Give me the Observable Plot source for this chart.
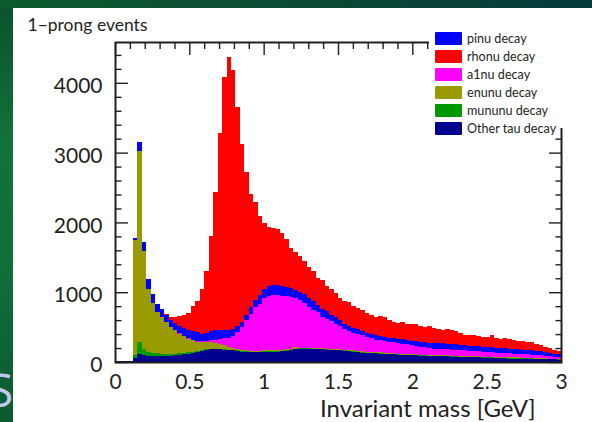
<!DOCTYPE html>
<html><head><meta charset="utf-8">
<script src="https://cdn.jsdelivr.net/npm/d3@7"></script>
<script src="https://cdn.jsdelivr.net/npm/@observablehq/plot@0.6"></script>
<style>
html,body{margin:0;padding:0;}
body{width:592px;height:422px;overflow:hidden;position:relative;font-family:Lato,"Open Sans",sans-serif;
 background:linear-gradient(180deg,#0b522b 0%,#13723a 35%,#10703a 60%,#0b5a30 100%);}
#topband{position:absolute;left:0;top:0;width:592px;height:8px;background:linear-gradient(90deg,#0c5a2e,#0a4a34 50%,#073a3c);}
#sletter{position:absolute;left:-12px;top:366px;font-size:46px;color:#c3c6ee;font-family:"Open Sans",sans-serif;line-height:1;}
#panel{position:absolute;left:13px;top:8px;width:579px;height:414px;background:#fff;}
#legend{position:absolute;left:429px;top:28px;width:136px;height:100px;background:#fff;}
.row{position:absolute;left:0;height:18px;display:flex;align-items:center;font-size:12.6px;color:#231f20;white-space:nowrap;}
.sw{width:27px;height:13px;margin-left:6px;margin-right:5px;border-radius:1px;}
</style></head>
<body>
<div id="topband"></div>
<div id="sletter">S</div>
<div id="panel"></div>
<div id="legend"></div>
<script>
// Stacked histogram: 100 bins of 0.03 GeV from 0 to 3 GeV
const binWidth = 0.03;
const nBins = 100;

// Other tau decay (bottom of stack)
const otherTau = [10,10,10,10,60,110,100,90,85,85, 85,85,90,95,100,110,120,130,145,160,
 170,180,180,180,175,170,165,160,150,145, 140,140,140,145,150,150,150,155,160,170,
 185,190,190,190,185,180,180,175,170,170, 165,160,155,150,140,135,130,130,125,120,
 115,110,110,105,100,100,95,95,90,90, 85,85,80,80,80,75,75,70,70,70,
 65,65,60,60,60,55,55,55,50,50, 50,48,47,46,45,45,42,40,38,35];
// mununu decay
const mununu = [0,0,0,0,40,170,80,60,50,40, 35,30,28,25,22,20,18,16,15,14,
 12,10,10,10,10,8,8,8,8,8, 8,8,8,8,8,8,8,8,8,8,
 8,5,5,5,5,5,5,5,5,5, 5,5,5,5,5,5,5,5,5,5,
 5,5,5,5,5,5,5,5,5,5, 5,5,5,5,5,5,5,5,5,5,
 5,5,5,5,5,5,5,5,5,5, 5,5,5,5,5,5,4,4,3,3];
// enunu decay
const enunu = [0,0,0,0,1650,2747,1413,903,717,592, 526,459,384,335,285,239,198,165,130,111,
 100,90,80,70,55,40,30,20,18,16, 15,15,15,15,15,15,15,15,15,15,
 15,12,12,12,12,12,12,12,12,12, 12,12,12,12,12,12,12,12,12,12,
 12,10,10,10,10,10,10,10,10,10, 10,10,10,10,10,10,10,10,10,10,
 10,10,10,10,10,10,10,10,10,10, 10,10,10,10,10,8,6,6,5,5];
// a1nu decay
const a1nu = [0,0,0,0,0,0,0,0,0,0, 0,0,0,0,5,5,5,8,8,10,
 18,30,50,70,100,132,167,242,324,431, 531,626,675,742,777,784,784,772,757,740,
 702,678,643,583,548,513,453,428,398,364, 338,293,268,253,243,231,213,193,179,173,
 168,162,155,152,149,137,130,118,110,103, 100,92,95,91,87,88,85,86,83,78,
 78,73,73,68,63,63,59,56,57,54, 51,50,48,46,43,40,38,35,32,30];
// pinu decay
const pinu = [0,0,0,0,32,121,120,134,129,111, 110,106,98,105,108,116,119,121,127,112,
 120,130,135,125,120,115,105,90,80,80, 95,100,120,140,140,143,143,145,140,125,
 120,120,125,125,120,110,115,105,95,88, 82,80,78,72,68,65,62,62,62,62,
 62,62,62,62,62,64,66,68,70,72, 75,80,80,80,80,78,76,75,74,73,
 72,72,72,72,72,72,72,70,70,68, 68,66,64,62,60,55,50,45,40,37];
// rhonu decay (top of stack)
const rhonu = [0,0,0,0,0,0,0,0,0,0, 0,10,40,80,140,185,243,364,446,643,
 880,1363,1975,2831,3629,3911,3710,3139,2539,2037, 1613,1398,1137,935,847,814,800,747,676,569,
 548,512,465,445,430,390,415,365,373,351, 318,320,343,308,302,292,278,273,257,293,
 284,246,233,231,246,229,239,244,235,225, 235,221,200,196,206,199,189,174,148,147,
 150,145,142,140,170,145,135,149,138,128, 121,121,116,111,102,87,75,70,52,50];

const stackOrder = [
  {name: "Other tau decay", values: otherTau, color: "#000090"},
  {name: "mununu decay", values: mununu, color: "#009900"},
  {name: "enunu decay", values: enunu, color: "#999900"},
  {name: "a1nu decay", values: a1nu, color: "#ff00ff"},
  {name: "pinu decay", values: pinu, color: "#0000ff"},
  {name: "rhonu decay", values: rhonu, color: "#ff0000"}
];
const legendOrder = ["pinu decay","rhonu decay","a1nu decay","enunu decay","mununu decay","Other tau decay"];

const yMajor = [0,1000,2000,3000,4000];
const yMinor = [200,400,600,800,1200,1400,1600,1800,2200,2400,2600,2800,3200,3400,3600,3800,4200,4400];
const xMajor = [0,0.5,1,1.5,2,2.5,3];
const xMinor = [0.1,0.2,0.3,0.4,0.6,0.7,0.8,0.9,1.1,1.2,1.3,1.4,1.6,1.7,1.8,1.9,2.1,2.2,2.3,2.4,2.6,2.7,2.8,2.9];

const rows = [];
for (let i = 0; i < nBins; i++) {
  for (const s of stackOrder) {
    if (s.values[i] > 0) rows.push({x1: i * binWidth, x2: (i + 1) * binWidth, series: s.name, n: s.values[i]});
  }
}

const ink = "#231f20";
const chart = Plot.plot({
  width: 579, height: 414,
  marginLeft: 102, marginRight: 31, marginTop: 34, marginBottom: 60,
  x: {domain: [0, 3]},
  y: {domain: [0, 4585]},
  color: {domain: stackOrder.map(s => s.name), range: stackOrder.map(s => s.color)},
  style: {fontFamily: "Lato, sans-serif", color: ink, background: "transparent", overflow: "visible"},
  marks: [
    Plot.rectY(rows, {x1: "x1", x2: "x2", y: "n", z: "series", fill: "series", shapeRendering: "crispEdges",
      order: stackOrder.map(s => s.name)}),
    Plot.axisY({anchor: "left", ticks: yMajor, tickSize: 0, tickPadding: 13, tickFormat: d => String(d), fontSize: 21, dy: 3, label: null}),
    Plot.axisY({anchor: "left", ticks: yMajor, tickSize: -13, fill: "none", label: null, stroke: ink, strokeWidth: 1.4}),
    Plot.axisY({anchor: "left", ticks: yMinor, tickSize: -6.5, fill: "none", label: null, stroke: ink, strokeWidth: 1.4}),
    Plot.axisY({anchor: "right", ticks: yMajor, tickSize: -13, fill: "none", label: null, stroke: ink, strokeWidth: 1.4}),
    Plot.axisY({anchor: "right", ticks: yMinor, tickSize: -6.5, fill: "none", label: null, stroke: ink, strokeWidth: 1.4}),
    Plot.axisX({anchor: "top", ticks: xMajor, tickSize: -12, fill: "none", label: null, stroke: ink, strokeWidth: 1.4}),
    Plot.axisX({anchor: "top", ticks: xMinor, tickSize: -6, fill: "none", label: null, stroke: ink, strokeWidth: 1.4}),
    Plot.axisX({anchor: "bottom", ticks: xMajor, tickSize: 0, tickPadding: 12, tickFormat: d => String(d), fontSize: 21, label: null}),
    Plot.frame({stroke: ink, strokeWidth: 2}),
    Plot.text(["1\u2212prong events"], {frameAnchor: "top-left", textAnchor: "start", lineAnchor: "middle", dx: -88, dy: -17, fontSize: 17.5, fill: ink}),
    Plot.text(["Invariant mass [GeV]"], {frameAnchor: "bottom-right", textAnchor: "end", lineAnchor: "middle", dx: -26, dy: 47, fontSize: 24, fill: ink})
  ]
});
document.getElementById("panel").appendChild(chart);

const legend = document.getElementById("legend");
legendOrder.forEach((name, i) => {
  const s = stackOrder.find(d => d.name === name);
  const row = document.createElement("div");
  row.className = "row";
  row.style.top = (1 + 18 * i) + "px";
  const sw = document.createElement("div");
  sw.className = "sw";
  sw.style.background = s.color;
  const label = document.createElement("span");
  label.textContent = name;
  row.appendChild(sw);
  row.appendChild(label);
  legend.appendChild(row);
});
</script>
</body></html>
